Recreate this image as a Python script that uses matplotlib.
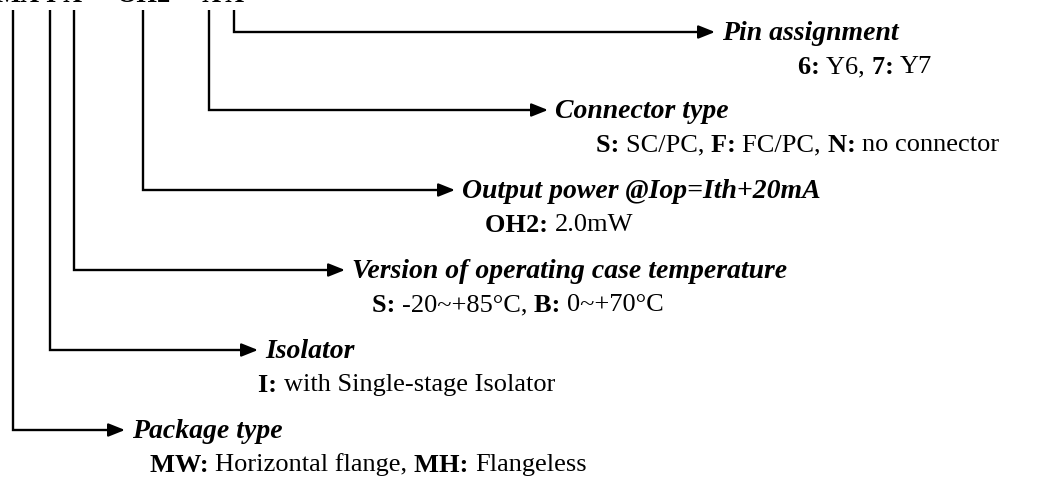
import matplotlib.pyplot as plt

# part number fields, top to bottom
titles = ["Pin assignment", "Connector type", "Output power @Iop=Ith+20mA",
          "Version of operating case temperature", "Isolator", "Package type"]
details = [
    [("6:", "Y6, "), ("7:", "Y7")],
    [("S:", "SC/PC, "), ("F:", "FC/PC, "), ("N:", "no connector")],
    [("OH2:", "2.0mW")],
    [("S:", "-20~+85\u00b0C, "), ("B:", "0~+70\u00b0C")],
    [("I:", "with Single-stage Isolator")],
    [("MW:", "Horizontal flange, "), ("MH:", "Flangeless")],
]
code_parts = ["MX", "I", "X", "-", "OH2", "-", "X", "X"]

# layout (pixels)
stem_x = [234, 209, 143, 74, 50, 13]
tip_x = [715, 548, 455, 345, 258, 125]
row_y = [32, 110, 190, 270, 350, 430]
detail_x = [798, 596, 485, 372, 258, 150]
code_x = [18, 50, 72, 96, 144, 188, 211, 234]

W, H = 1038, 486
fig = plt.figure(figsize=(W / 100, H / 100), dpi=100)
ax = fig.add_axes([0, 0, 1, 1])
ax.set_xlim(0, W)
ax.set_ylim(H, 0)
ax.axis('off')

font = 'Liberation Serif'

for part, cx in zip(code_parts, code_x):
    ax.text(cx, 2, part, ha='center', va='baseline', fontsize=19,
            fontweight='bold', family=font)

renderer = fig.canvas.get_renderer()
for i in range(len(titles)):
    sx, tx, y = stem_x[i], tip_x[i], row_y[i]
    ax.plot([sx, sx, tx - 10], [10, y, y], color='black', lw=1.7,
            solid_joinstyle='miter', solid_capstyle='butt')
    ax.annotate('', xy=(tx, y), xytext=(tx - 12, y),
                arrowprops=dict(arrowstyle='-|>,head_length=1.0,head_width=0.4',
                                color='black', lw=1.6, shrinkA=0, shrinkB=0))
    ax.text(tx + 7, y + 1, titles[i], ha='left', va='center', fontsize=20,
            fontweight='bold', style='italic', family=font)

    # detail line: bold keys with regular values
    x = detail_x[i]
    yy = y + 35
    for key, val in details[i]:
        t = ax.text(x, yy, key + ' ', ha='left', va='center', fontsize=19,
                    fontweight='bold', family=font)
        x += t.get_window_extent(renderer).width
        t2 = ax.text(x, yy, val, ha='left', va='center', fontsize=19, family=font)
        x += t2.get_window_extent(renderer).width

fig.savefig('out.png', dpi=100)
